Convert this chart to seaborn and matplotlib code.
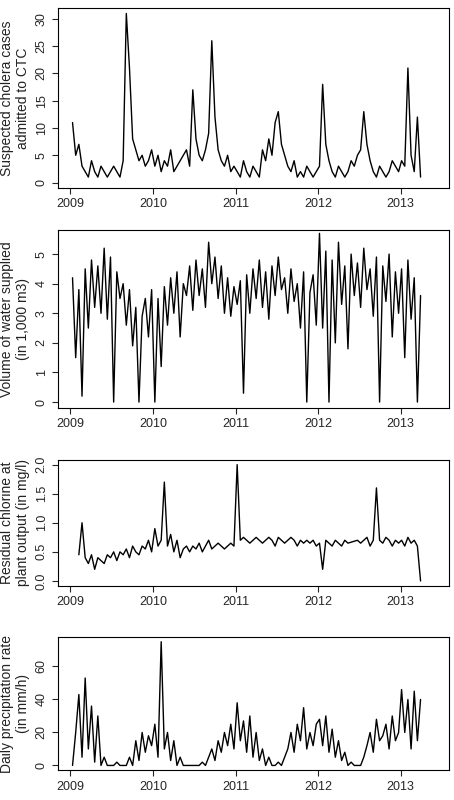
import matplotlib
matplotlib.use("Agg")
import matplotlib.pyplot as plt
import seaborn as sns
import pandas as pd

# approximate biweekly readings, Jan 2009 - Apr 2013
cases = [11, 5, 7, 3, 2, 1, 4, 2, 1, 3, 2, 1, 2, 3, 2, 1, 4, 31, 21, 8, 6, 4, 5, 3, 4, 6,
         3, 5, 2, 4, 3, 6, 2, 3, 4, 5, 6, 3, 17, 8, 5, 4, 6, 9, 26, 12, 6, 4, 3, 5, 2, 3,
         2, 1, 4, 2, 1, 3, 2, 1, 6, 4, 8, 5, 11, 13, 7, 5, 3, 2, 4, 1, 2, 1, 3, 2, 1, 2,
         3, 18, 7, 4, 2, 1, 3, 2, 1, 2, 4, 3, 5, 6, 13, 7, 4, 2, 1, 3, 2, 1, 2, 4, 3, 2,
         4, 3, 21, 5, 2, 12, 1]
water = [4.2, 1.5, 3.8, 0.2, 4.5, 2.5, 4.8, 3.2, 4.6, 3.0, 5.2, 2.8, 4.9, 0.0, 4.4, 3.5, 4.0, 2.6, 3.8, 1.9, 3.2, 0.0, 2.9, 3.5, 2.2, 3.8,
         0.0, 3.5, 1.2, 3.9, 2.6, 4.2, 3.0, 4.4, 2.2, 4.0, 3.6, 4.6, 3.1, 4.8, 3.6, 4.5, 3.2, 5.4, 4.0, 4.9, 3.5, 4.6, 3.0, 4.2, 2.9, 3.9,
         3.3, 4.1, 0.3, 4.3, 3.0, 4.5, 3.5, 4.8, 3.2, 4.4, 2.8, 4.6, 3.6, 4.9, 3.8, 4.2, 3.0, 4.5, 3.4, 4.0, 2.5, 4.4, 0.0, 3.7, 4.3, 2.6,
         5.7, 2.5, 5.1, 0.0, 4.8, 2.0, 5.4, 3.3, 4.6, 1.8, 5.0, 3.6, 4.7, 3.2, 5.2, 3.8, 4.5, 2.9, 4.9, 0.0, 4.6, 3.4, 5.0, 2.2, 4.4, 3.0,
         4.5, 1.5, 4.8, 2.8, 4.2, 0.0, 3.6]
chlorine = [None, None, 0.45, 1.0, 0.4, 0.3, 0.45, 0.2, 0.4, 0.35, 0.3, 0.45, 0.4, 0.5, 0.35, 0.5, 0.45, 0.55, 0.4, 0.6, 0.5, 0.45, 0.6, 0.55, 0.7, 0.5,
            0.9, 0.6, 0.7, 1.7, 0.6, 0.8, 0.5, 0.7, 0.4, 0.55, 0.6, 0.5, 0.6, 0.55, 0.65, 0.5, 0.6, 0.7, 0.55, 0.6, 0.65, 0.6, 0.55, 0.6, 0.65, 0.6,
            2.0, 0.7, 0.75, 0.7, 0.65, 0.7, 0.75, 0.7, 0.65, 0.7, 0.75, 0.7, 0.6, 0.75, 0.7, 0.65, 0.7, 0.75, 0.7, 0.6, 0.7, 0.65, 0.7, 0.65, 0.7, 0.6,
            0.65, 0.2, 0.7, 0.65, 0.6, 0.7, 0.65, 0.6, 0.7, 0.65, None, None, 0.7, 0.65, 0.7, 0.75, 0.6, 0.7, 1.6, 0.7, 0.65, 0.75, 0.7, 0.6, 0.7, 0.65,
            0.7, 0.6, 0.75, 0.65, 0.7, 0.6, 0.0]
rain = [0, 20, 43, 5, 53, 10, 36, 2, 30, 0, 5, 0, 0, 0, 2, 0, 0, 0, 5, 0, 15, 3, 20, 8, 18, 12,
        25, 5, 75, 10, 20, 3, 15, 0, 5, 0, 0, 0, 0, 0, 0, 2, 0, 5, 10, 3, 15, 8, 20, 12, 25, 10,
        38, 15, 27, 8, 30, 5, 20, 3, 10, 0, 5, 0, 0, 2, 0, 5, 10, 20, 8, 25, 15, 35, 10, 20, 12, 25,
        28, 12, 30, 8, 22, 5, 15, 3, 8, 0, 2, 0, 0, 0, 5, 12, 20, 8, 28, 15, 18, 25, 10, 30, 15, 20,
        46, 20, 40, 10, 45, 15, 40]

n = len(cases)
dates = pd.date_range("2009-01-10", periods=n, freq="14D")
df = pd.DataFrame({"date": dates, "cases": cases, "water": water,
                   "chlorine": chlorine, "rain": rain})
df["t"] = df["date"].dt.year + (df["date"].dt.dayofyear - 1) / 365.25

sns.set_style("ticks")
plt.rcParams["font.family"] = ["Liberation Sans", "DejaVu Sans"]
fig = plt.figure(figsize=(4.54, 8.0), dpi=100)
panels = [
    ("cases", "Suspected cholera cases\nadmitted to CTC", [0, 5, 10, 15, 20, 25, 30], (-1, 32), [0.128, 0.765, 0.86, 0.225]),
    ("water", "Volume of water supplied\n(in 1,000 m3)", [0, 1, 2, 3, 4, 5], (-0.2, 5.8), [0.128, 0.49, 0.86, 0.222]),
    ("chlorine", "Residual chlorine at\nplant output (in mg/l)", [0.0, 0.5, 1.0, 1.5, 2.0], (-0.08, 2.08), [0.128, 0.268, 0.86, 0.157]),
    ("rain", "Daily precipitation rate\n(in mm/h)", [0, 20, 40, 60], (-3, 78), [0.128, 0.037, 0.86, 0.167]),
]
for col, label, yt, ylim, rect in panels:
    ax = fig.add_axes(rect)
    sns.lineplot(data=df, x="t", y=col, ax=ax, color="black", linewidth=1.0)
    ax.set_xlim(2008.85, 2013.58)
    ax.set_ylim(*ylim)
    ax.set_xticks([2009, 2010, 2011, 2012, 2013])
    ax.set_yticks(yt)
    ax.set_xticklabels(["2009", "2010", "2011", "2012", "2013"])
    ax.set_yticklabels([str(v) for v in yt], rotation=90, va="center")
    ax.set_xlabel("")
    ax.set_ylabel(label, fontsize=10, color="#222222")
    ax.tick_params(labelsize=9, direction="out", length=4)
    for s in ax.spines.values():
        s.set_visible(True)
        s.set_color("black")
fig.savefig("out.png", dpi=100)
